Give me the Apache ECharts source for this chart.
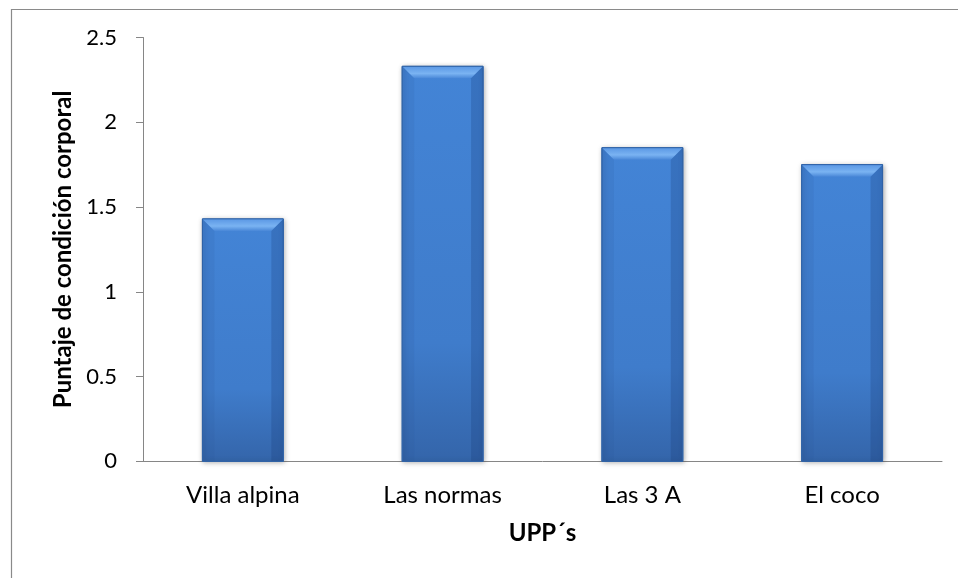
<!DOCTYPE html>
<html>
<head>
<meta charset="utf-8">
<script src="https://cdn.jsdelivr.net/npm/echarts@6/dist/echarts.min.js"></script>
<style>
html,body{margin:0;padding:0;background:#fff;}
#chart{width:958px;height:578px;}
</style>
</head>
<body>
<div id="chart"></div>
<script>
const categories = ['Villa alpina', 'Las normas', 'Las 3 A', 'El coco'];
const values = [1.43, 2.33, 1.85, 1.75];
const yTicks = [0, 0.5, 1, 1.5, 2, 2.5];
const xTitle = 'UPP´s';
const yTitle = 'Puntaje de condición corporal';

const FONT = 'Lato';
const chart = echarts.init(document.getElementById('chart'), null, {renderer: 'canvas'});

function renderBar(params, api) {
  const idx = api.value(0);
  const val = api.value(1);
  const top = api.coord([idx, val]);
  const base = api.coord([idx, 0]);
  const w = api.size([1, 0])[0] * 0.405;
  const x0 = top[0] - w / 2, x1 = top[0] + w / 2;
  const y0 = top[1], y1 = base[1];
  const b = 12;
  return {
    type: 'group',
    children: [
      {
        type: 'rect',
        shape: {x: x0, y: y0, width: w, height: y1 - y0},
        style: {
          fill: new echarts.graphic.LinearGradient(0, 0, 0, 1, [
            {offset: 0, color: '#4384d6'},
            {offset: 0.7, color: '#3f7ccb'},
            {offset: 1, color: '#3465aa'}
          ]),
          stroke: '#3a6fb5',
          lineWidth: 1,
          shadowBlur: 5,
          shadowColor: 'rgba(0,0,0,0.35)',
          shadowOffsetX: 1,
          shadowOffsetY: 1
        }
      },
      {
        type: 'polygon',
        shape: {points: [[x0, y0], [x1, y0], [x1 - b, y0 + b], [x0 + b, y0 + b]]},
        style: {
          fill: new echarts.graphic.LinearGradient(0, 0, 0, 1, [
            {offset: 0, color: '#5a97e4'},
            {offset: 0.6, color: '#7ab3f2'},
            {offset: 1, color: '#4a88d8'}
          ])
        }
      },
      {
        type: 'polygon',
        shape: {points: [[x0, y0], [x0 + b, y0 + b], [x0 + b, y1], [x0, y1]]},
        style: {fill: 'rgba(40,80,150,0.12)'}
      },
      {
        type: 'polygon',
        shape: {points: [[x1, y0], [x1 - b, y0 + b], [x1 - b, y1], [x1, y1]]},
        style: {fill: 'rgba(20,50,110,0.22)'}
      },
      {
        type: 'rect',
        shape: {x: x0, y: y0, width: w, height: y1 - y0},
        style: {fill: 'none', stroke: '#2f62a6', lineWidth: 1}
      }
    ]
  };
}

const option = {
  animation: false,
  backgroundColor: '#ffffff',
  graphic: [{
    type: 'rect',
    shape: {x: 11.5, y: 9.5, width: 1000, height: 1000},
    style: {fill: 'none', stroke: '#8a8a8a', lineWidth: 1.2},
    silent: true
  }],
  grid: {left: 143, right: 16, top: 37.5, bottom: 116.7, containLabel: false},
  xAxis: {
    type: 'category',
    data: categories,
    name: xTitle,
    nameLocation: 'middle',
    nameGap: 60,
    nameTextStyle: {fontFamily: FONT, fontSize: 24, fontWeight: 'bold', color: '#000'},
    axisLine: {lineStyle: {color: '#868686', width: 1}},
    axisTick: {show: false},
    axisLabel: {fontFamily: FONT, fontSize: 24, color: '#000', margin: 22}
  },
  yAxis: {
    type: 'value',
    min: 0,
    max: 2.5,
    interval: 0.5,
    name: yTitle,
    nameLocation: 'middle',
    nameGap: 66,
    nameRotate: 90,
    nameTextStyle: {fontFamily: FONT, fontSize: 24, fontWeight: 'bold', color: '#000'},
    axisLine: {show: true, lineStyle: {color: '#868686', width: 1}},
    axisTick: {show: true, length: 7, lineStyle: {color: '#868686'}},
    splitLine: {show: false},
    axisLabel: {
      fontFamily: FONT, fontSize: 22, color: '#000', margin: 26,
      formatter: function (v) { return yTicks.indexOf(v) >= 0 ? String(v) : ''; }
    }
  },
  series: [{
    type: 'custom',
    renderItem: renderBar,
    encode: {x: 0, y: 1},
    data: values.map((v, i) => [i, v])
  }]
};
chart.setOption(option);
</script>
</body>
</html>
